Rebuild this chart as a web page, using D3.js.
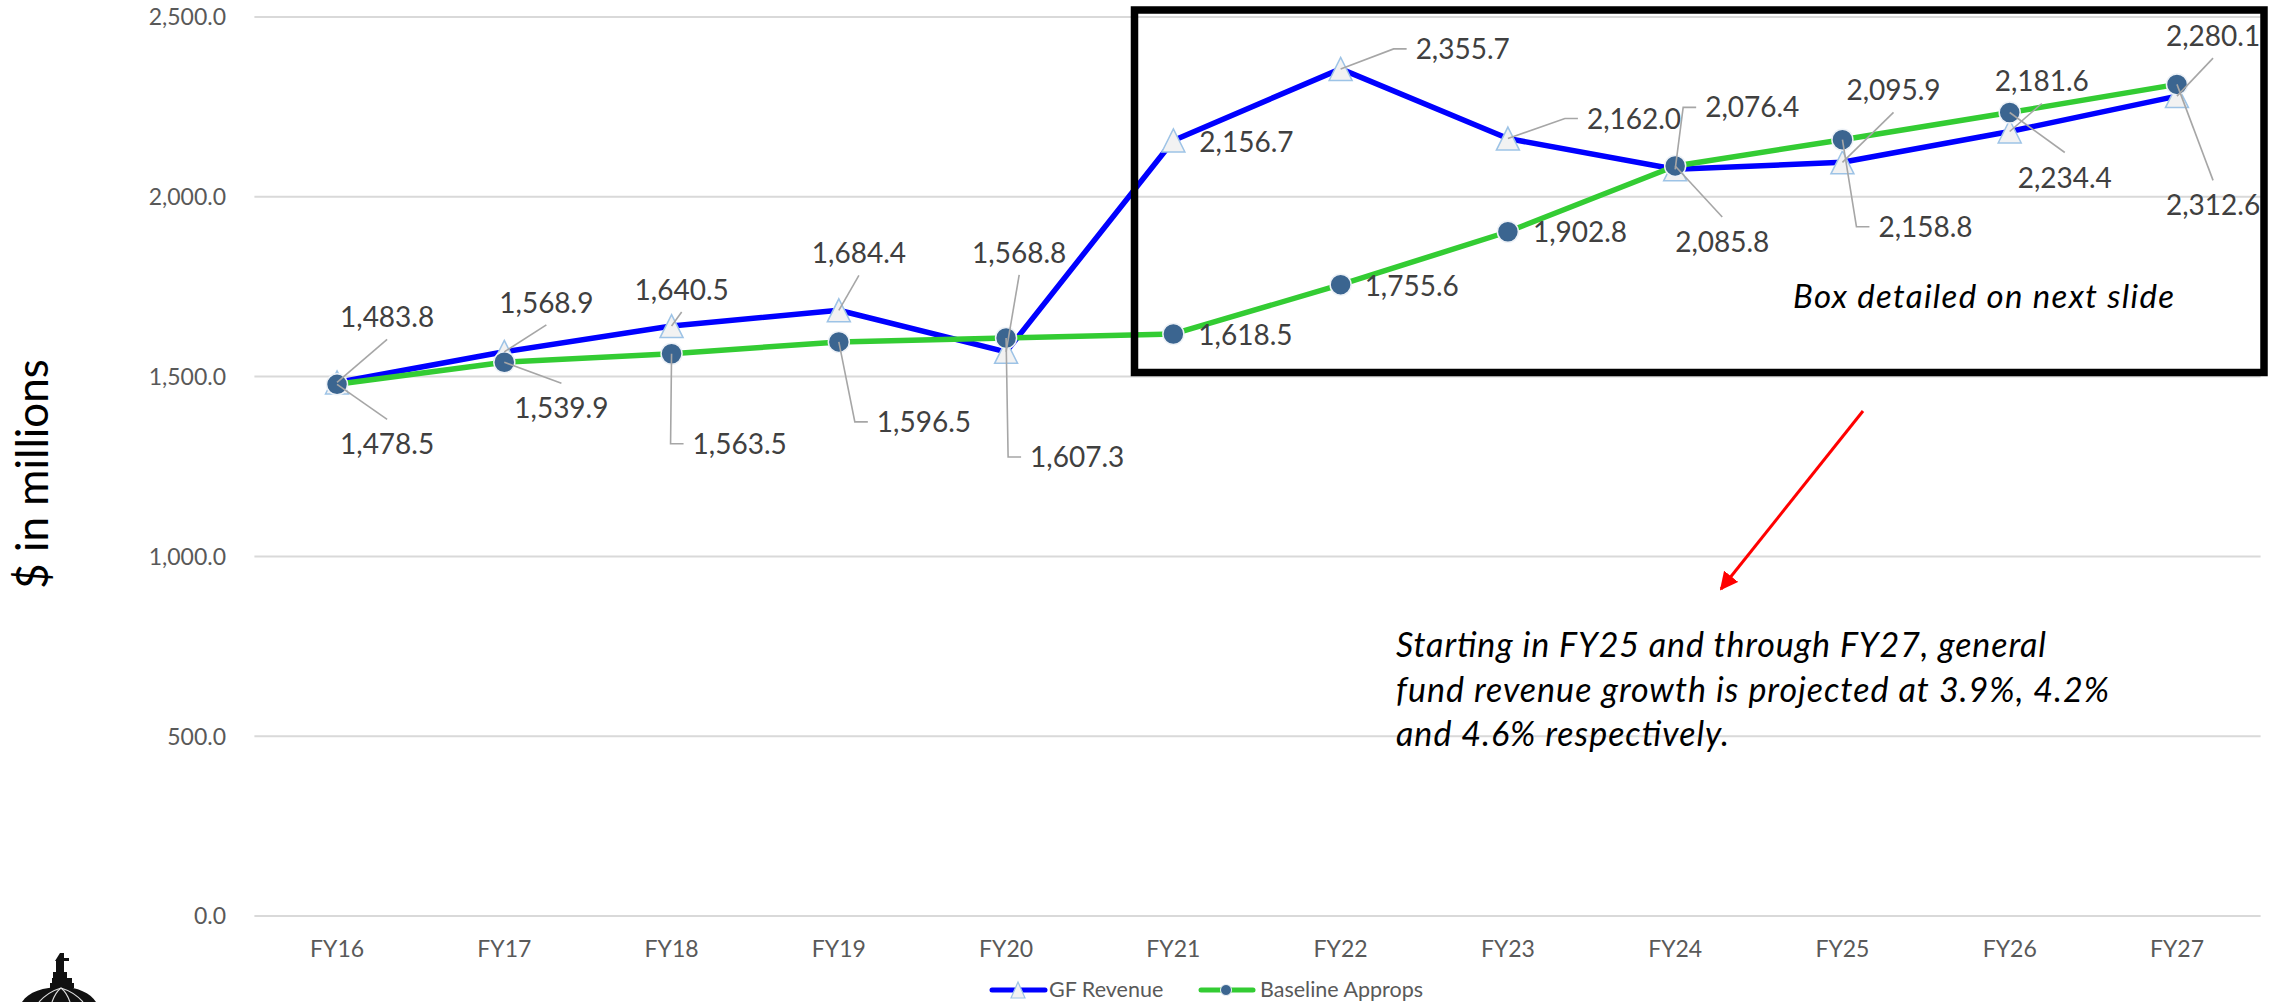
<!DOCTYPE html>
<html>
<head>
<meta charset="utf-8">
<title>GF Revenue vs Baseline Approps</title>
<script src="https://cdn.jsdelivr.net/npm/d3@7"></script>
<style>
  body { margin: 0; background: #fff; }
  svg { display: block; font-family: Lato, "Open Sans", sans-serif; }
</style>
</head>
<body>
<div id="container"></div>
<script>
// chart data
const categories = ["FY16", "FY17", "FY18", "FY19", "FY20", "FY21", "FY22", "FY23", "FY24", "FY25", "FY26", "FY27"];
const gfRevenue = [1483.8, 1568.9, 1640.5, 1684.4, 1568.8, 2156.7, 2355.7, 2162.0, 2076.4, 2095.9, 2181.6, 2280.1];
const baselineApprops = [1478.5, 1539.9, 1563.5, 1596.5, 1607.3, 1618.5, 1755.6, 1902.8, 2085.8, 2158.8, 2234.4, 2312.6];
const yTicks = [0, 500, 1000, 1500, 2000, 2500];
const seriesNames = ["GF Revenue", "Baseline Approps"];
const axisTitle = "$ in millions";
const boxNote = "Box detailed on next slide";
const noteLines = [
    "Starting in FY25 and through FY27, general",
    "fund revenue growth is projected at 3.9%, 4.2%",
    "and 4.6% respectively."
];

// where each data label sits relative to its point: [dx to text left, dy to baseline, leader kind]
const gfLabelPos = [[3, -55, "bottom"], [-5, -39, "bottom"], [-37, -26, "bottom"], [-27, -47, "bottom"],
    [-34, -89, "bottom"], [26, 12, "none"], [75, -10, "left"], [79, -10, "left"],
    [30, -52, "left"], [4, -62, "bottom"], [-15, -40, "bottom"], [-11, -50, "bottom"]];
const baseLabelPos = [[3, 70, "top"], [10, 56, "top"], [21, 100, "left"], [38, 90, "left"],
    [24, 129, "left"], [25, 11, "none"], [24, 11, "none"], [25, 10, "none"],
    [0, 86, "top"], [36, 97, "left"], [8, 75, "top"], [-11, 131, "top"]];

const WIDTH = 2294, HEIGHT = 1002;
const PLOT_LEFT = 253.4, PLOT_RIGHT = 2260.6, PLOT_TOP = 17, PLOT_BOTTOM = 916;
const blue = '#0000ff';
const green = '#33cc33';
const dotFill = '#3b6590';
const tickColor = '#595959';
const labelColor = '#404040';
const leaderColor = '#a6a6a6';

var svg = d3.select("#container")
    .append("svg")
    .attr("width", WIDTH)
    .attr("height", HEIGHT);

var xscale = d3.scaleBand()
    .domain(categories)
    .range([PLOT_LEFT, PLOT_RIGHT]);
function xc(c) { return xscale(c) + xscale.bandwidth() / 2; }

var yscale = d3.scaleLinear()
    .domain([0, 2500])
    .range([PLOT_BOTTOM, PLOT_TOP]);

// gridlines
svg.append("g")
    .selectAll("line")
    .data(yTicks)
    .join("line")
    .attr("x1", PLOT_LEFT + 1)
    .attr("x2", PLOT_RIGHT)
    .attr("y1", d => yscale(d))
    .attr("y2", d => yscale(d))
    .attr("stroke", "#d9d9d9")
    .attr("stroke-width", 2);

// y axis labels
var yAxis = svg.append("g")
    .attr("transform", "translate(255,0)")
    .call(d3.axisLeft(yscale).tickValues(yTicks).tickFormat(d3.format(",.1f")).tickSize(0).tickPadding(29));
yAxis.select(".domain").remove();
yAxis.selectAll("text")
    .attr("fill", tickColor)
    .style("font-size", "23px")
    .style("font-family", "Lato, sans-serif")
    .attr("dy", "0.34em");

// x axis labels
var xAxis = svg.append("g")
    .attr("transform", "translate(0," + PLOT_BOTTOM + ")")
    .call(d3.axisBottom(xscale).tickSize(0).tickPadding(25));
xAxis.select(".domain").remove();
xAxis.selectAll("text")
    .attr("fill", tickColor)
    .style("font-size", "23px")
    .style("font-family", "Lato, sans-serif");

// axis title
svg.append("text")
    .attr("transform", "translate(48,474) rotate(-90)")
    .attr("text-anchor", "middle")
    .style("font-size", "44px")
    .attr("fill", "#000")
    .text(axisTitle);

var triPath = "M0,-11.5L11.5,11.5L-11.5,11.5Z";
var line = d3.line()
    .x((d, i) => xc(categories[i]))
    .y(d => yscale(d));

// GF Revenue series
svg.append("path")
    .datum(gfRevenue)
    .attr("d", line)
    .attr("fill", "none")
    .attr("stroke", blue)
    .attr("stroke-width", 5.5)
    .attr("stroke-linejoin", "round");
svg.append("g")
    .selectAll("path")
    .data(gfRevenue)
    .join("path")
    .attr("d", triPath)
    .attr("transform", (d, i) => "translate(" + xc(categories[i]) + "," + yscale(d) + ")")
    .attr("fill", "#f2f2f2")
    .attr("stroke", "#9dc3e6")
    .attr("stroke-width", 1.5);

// Baseline Approps series
svg.append("path")
    .datum(baselineApprops)
    .attr("d", line)
    .attr("fill", "none")
    .attr("stroke", green)
    .attr("stroke-width", 5.5)
    .attr("stroke-linejoin", "round");
svg.append("g")
    .selectAll("circle")
    .data(baselineApprops)
    .join("circle")
    .attr("cx", (d, i) => xc(categories[i]))
    .attr("cy", d => yscale(d))
    .attr("r", 10.5)
    .attr("fill", dotFill)
    .attr("stroke", "#eef2f7")
    .attr("stroke-width", 1.5);

// data labels with leader lines
var leaderG = svg.append("g");
var labelG = svg.append("g");
var fmt = d3.format(",.1f");
function drawLabels(values, pos) {
    values.forEach(function(v, i) {
        var px = xc(categories[i]), py = yscale(v);
        var dx = pos[i][0], dy = pos[i][1], kind = pos[i][2];
        var lx = px + dx, by = py + dy;
        var t = labelG.append("text")
            .attr("x", lx)
            .attr("y", by)
            .attr("fill", labelColor)
            .style("font-size", "28px")
            .text(fmt(v));
        var w = t.node().getComputedTextLength();
        var pts = null;
        if (kind === "bottom") pts = [[px, py], [lx + w / 2, by + 12]];
        else if (kind === "top") pts = [[px, py], [lx + w / 2, by - 35]];
        else if (kind === "left") pts = [[px, py], [lx - 22, by - 10], [lx - 9, by - 10]];
        if (pts) {
            leaderG.append("path")
                .attr("d", d3.line()(pts))
                .attr("fill", "none")
                .attr("stroke", leaderColor)
                .attr("stroke-width", 1.6);
        }
    });
}
drawLabels(gfRevenue, gfLabelPos);
drawLabels(baselineApprops, baseLabelPos);

// legend
var legend = svg.append("g").attr("transform", "translate(0,990)");
legend.append("line").attr("x1", 992).attr("x2", 1045).attr("stroke", blue).attr("stroke-width", 5).attr("stroke-linecap", "round");
legend.append("path").attr("d", "M0,-8L7,8L-7,8Z").attr("transform", "translate(1018,0)")
    .attr("fill", "#f2f2f2").attr("stroke", "#9dc3e6").attr("stroke-width", 1.2);
legend.append("text").attr("x", 1049).attr("y", 7).attr("fill", tickColor).style("font-size", "21.5px").text(seriesNames[0]);
legend.append("line").attr("x1", 1201).attr("x2", 1253).attr("stroke", green).attr("stroke-width", 5).attr("stroke-linecap", "round");
legend.append("circle").attr("cx", 1226).attr("r", 5.5).attr("fill", dotFill).attr("stroke", "#eef2f7").attr("stroke-width", 1);
legend.append("text").attr("x", 1260).attr("y", 7).attr("fill", tickColor).style("font-size", "21.5px").text(seriesNames[1]);

// highlight box
svg.append("rect")
    .attr("x", 1134.5)
    .attr("y", 10)
    .attr("width", 2264 - 1134.5)
    .attr("height", 372.5 - 10)
    .attr("fill", "none")
    .attr("stroke", "#000")
    .attr("stroke-width", 7.5);
svg.append("text")
    .attr("x", 1793)
    .attr("y", 308)
    .style("font-size", "33px")
    .style("font-style", "italic")
    .attr("fill", "#000")
    .attr("textLength", 381)
    .attr("lengthAdjust", "spacing")
    .text(boxNote);

// red arrow + note
var defs = svg.append("defs");
defs.append("marker")
    .attr("id", "arrowhead")
    .attr("viewBox", "0 0 10 10")
    .attr("refX", 9)
    .attr("refY", 5)
    .attr("markerWidth", 6)
    .attr("markerHeight", 6)
    .attr("orient", "auto")
    .append("path")
    .attr("d", "M0,0L10,5L0,10Z")
    .attr("fill", "#ff0000");
svg.append("line")
    .attr("x1", 1863).attr("y1", 411)
    .attr("x2", 1721).attr("y2", 589)
    .attr("stroke", "#ff0000")
    .attr("stroke-width", 3)
    .attr("marker-end", "url(#arrowhead)");
var noteWidths = [650, 713, 333];
svg.append("g")
    .selectAll("text")
    .data(noteLines)
    .join("text")
    .attr("x", 1396)
    .attr("y", (d, i) => 657 + i * 44.5)
    .style("font-size", "34px")
    .style("font-style", "italic")
    .attr("fill", "#000")
    .attr("textLength", (d, i) => noteWidths[i])
    .attr("lengthAdjust", "spacing")
    .text(d => d);

// capitol dome logo, bottom left
var logo = svg.append("g").attr("fill", "#111");
logo.append("path").attr("d", "M60,953h4v5h5v3h-5v11h3v6h-14v-6h3v-11h-1z");
logo.append("rect").attr("x", 52).attr("y", 978).attr("width", 20).attr("height", 5);
logo.append("rect").attr("x", 50).attr("y", 983).attr("width", 24).attr("height", 5);
logo.append("path").attr("d", "M22,1002C28,992 44,987 61,987C78,987 90,993 96,1002Z");
logo.selectAll("path.rib")
    .data([-22, -9, 9, 22])
    .join("path")
    .attr("class", "rib")
    .attr("d", d => "M61,988Q" + (61 + d * 0.6) + ",992 " + (61 + d) + ",1002")
    .attr("fill", "none")
    .attr("stroke", "#ddd")
    .attr("stroke-width", 1.2);
</script>
</body>
</html>
